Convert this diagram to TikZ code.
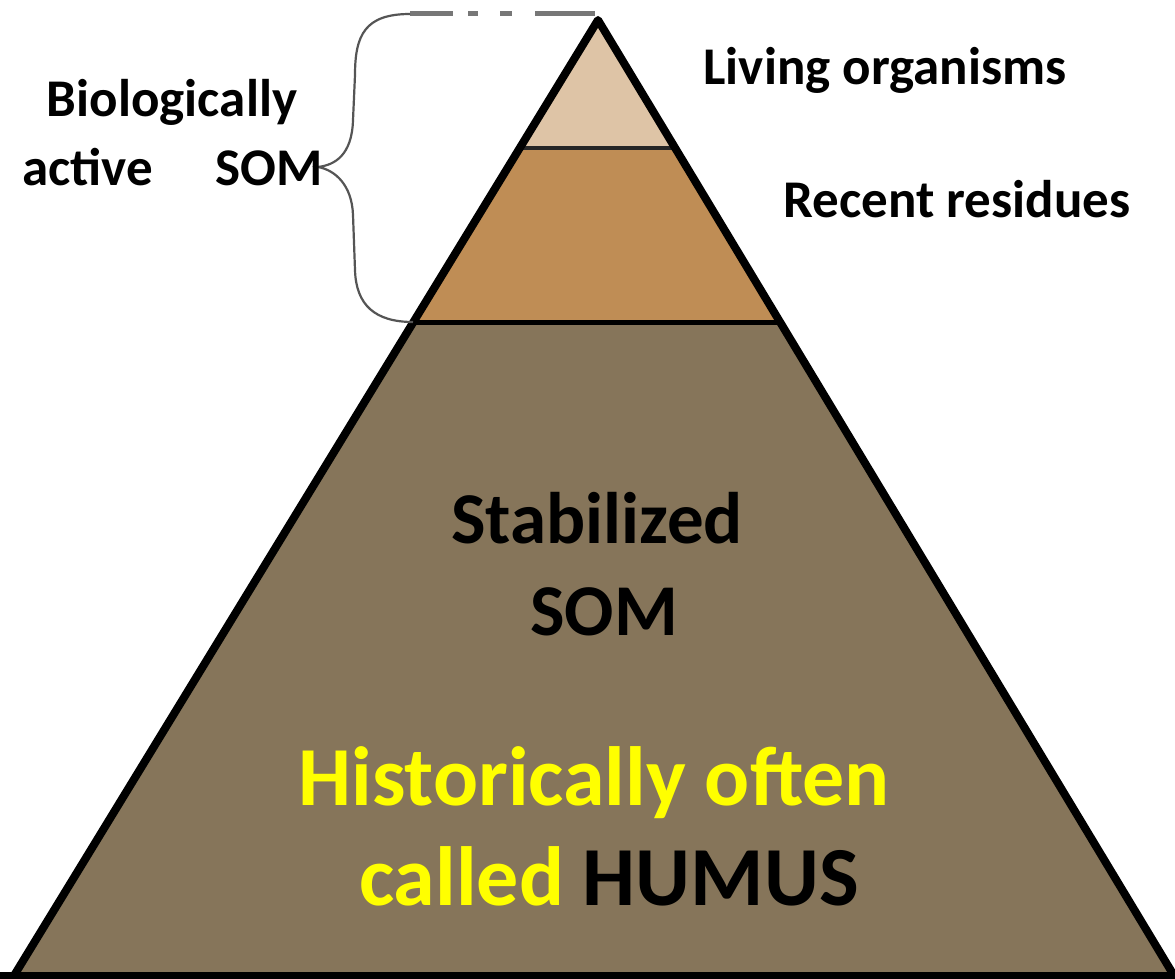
\documentclass[tikz,border=0pt]{standalone}
\usepackage{fontspec}
\setmainfont{Carlito}
\usetikzlibrary{calc}
\definecolor{toplayer}{HTML}{DEC4A6}
\definecolor{midlayer}{HTML}{BF8D55}
\definecolor{botlayer}{HTML}{86755A}
\definecolor{bracegray}{HTML}{555555}
\definecolor{humusyellow}{HTML}{FFFF00}
\tikzset{
  outline/.style={draw=black, line width=8pt, line join=round},
  lbl/.style={inner sep=0pt, font=\bfseries\fontsize{53}{60}\selectfont},
  biglbl/.style={inner sep=0pt, font=\bfseries\fontsize{73}{92}\selectfont},
  hugelbl/.style={inner sep=0pt, font=\bfseries\fontsize{84}{100}\selectfont},
  bracestyle/.style={draw=bracegray, line width=2.2pt},
  dashstyle/.style={draw=bracegray!80, line width=5pt, dash pattern=on 43pt off 15pt on 10pt off 22pt on 12pt off 23pt on 70pt}
}
\begin{document}
\begin{tikzpicture}[x=1pt,y=-1pt]
\useasboundingbox (0,0) rectangle (1175,979);
\fill[white] (0,0) rectangle (1175,979);
\coordinate (A) at (598,20);
\coordinate (L) at (15,974);
\coordinate (R) at (1173,974);
\coordinate (L1) at ($(A)!0.134!(L)$);
\coordinate (R1) at ($(A)!0.134!(R)$);
\coordinate (L2) at ($(A)!0.317!(L)$);
\coordinate (R2) at ($(A)!0.317!(R)$);
% layers
\fill[botlayer] (L2) -- (R2) -- (R) -- (L) -- cycle;
\fill[midlayer] (L1) -- (R1) -- (R2) -- (L2) -- cycle;
\fill[toplayer] (A) -- (R1) -- (L1) -- cycle;
\draw[draw=black!85, line width=4pt] (L1) -- (R1);
\draw[draw=black, line width=5pt] (L2) -- (R2);
\draw[outline] (L) -- (A) -- (R);
\draw[draw=black, line width=7pt] (0,975.5) -- (1175,975.5);
% brace
\coordinate (BT) at (410,14);
\coordinate (BB) at (413,322);
\coordinate (BTip) at (318,167);
\draw[dashstyle] (BT) -- (595,14);
\draw[bracestyle] (BT) .. controls (365,14) and (355,35) .. (355,75) -- (353,120)
  .. controls (352,155) and (335,165) .. (BTip)
  .. controls (335,170) and (352,185) .. (353,215) -- (355,270)
  .. controls (356,305) and (375,322) .. (BB);
% labels
\node[lbl, anchor=base] (living) at (885,85) {Living organisms};
\node[lbl, anchor=base] (recent) at (957,217) {Recent residues};
\node[lbl, anchor=base] (bio) at (172,117) {Biologically};
\node[lbl, anchor=base west] (active) at (22,185) {active};
\node[lbl, anchor=base west] (som1) at (215,185) {SOM};
\node[biglbl, anchor=base] (stab) at (597,543) {Stabilized};
\node[biglbl, anchor=base] (som2) at (604,635) {SOM};
\node[hugelbl, anchor=base, text=humusyellow] (hist) at (594,805) {Historically often};
\node[hugelbl, anchor=base] (called) at (609,905) {\textcolor{humusyellow}{called} HUMUS};
\end{tikzpicture}
\end{document}
